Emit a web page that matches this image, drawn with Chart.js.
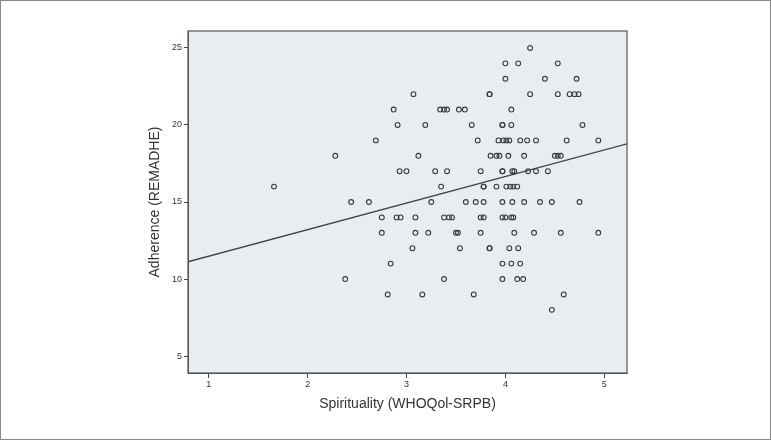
<!DOCTYPE html>
<html>
<head>
<meta charset="utf-8">
<script src="https://cdn.jsdelivr.net/npm/chart.js@4/dist/chart.umd.min.js"></script>
<style>
  html, body { margin: 0; padding: 0; background: #fff; }
  #wrap { width: 771px; height: 440px; position: relative; }
</style>
</head>
<body>
<div id="wrap"><canvas id="chart" width="771" height="440"></canvas></div>
<script>
// scatter: spirituality score (x) vs adherence score (y)
const adherence = [
  25,
  24, 24, 24,
  23, 23, 23,
  22, 22, 22, 22, 22, 22, 22, 22,
  21, 21, 21, 21, 21, 21, 21,
  20, 20, 20, 20, 20, 20, 20,
  19, 19, 19, 19, 19, 19, 19, 19, 19, 19, 19,
  18, 18, 18, 18, 18, 18, 18, 18, 18, 18,
  17, 17, 17, 17, 17, 17, 17, 17, 17, 17, 17, 17,
  16, 16, 16, 16, 16, 16, 16, 16, 16,
  15, 15, 15, 15, 15, 15, 15, 15, 15, 15, 15, 15,
  14, 14, 14, 14, 14, 14, 14, 14, 14, 14, 14, 14, 14,
  13, 13, 13, 13, 13, 13, 13, 13, 13, 13,
  12, 12, 12, 12, 12, 12,
  11, 11, 11, 11,
  10, 10, 10, 10, 10,
  9, 9, 9, 9,
  8, 8
];
const spirituality = [
  4.25,
  4.00, 4.13, 4.53,
  4.00, 4.40, 4.72,
  3.84, 3.84, 4.25, 4.53, 4.65, 4.70, 4.74,
  3.07, 3.34, 3.38, 3.41, 3.53, 3.59, 4.06,
  2.87, 3.19, 3.66, 3.97, 3.97, 4.06, 4.78,
  2.91, 3.72, 3.93, 3.98, 4.01, 4.04, 4.15, 4.22, 4.31, 4.62, 4.94,
  2.69, 3.12, 3.85, 3.91, 3.94, 4.03, 4.19, 4.50, 4.53, 4.56,
  2.28, 2.93, 3.29, 3.41, 3.75, 3.97, 3.97, 4.07, 4.09, 4.23, 4.31, 4.43,
  3.00, 3.35, 3.78, 3.78, 3.91, 4.01, 4.08, 4.12, 4.05,
  1.66, 2.62, 3.25, 3.60, 3.70, 3.78, 3.97, 4.07, 4.19, 4.35, 4.47, 4.75,
  2.44, 2.75, 2.90, 2.94, 3.38, 3.43, 3.46, 3.75, 3.78, 3.97, 4.00, 4.06, 4.08,
  3.09, 3.09, 3.22, 3.50, 3.52, 3.75, 4.09, 4.29, 4.56, 4.94,
  2.75, 3.06, 3.54, 3.84, 4.04, 4.13,
  3.84, 3.97, 4.06, 4.15,
  2.84, 3.38, 3.97, 4.12, 4.18,
  2.38, 3.16, 3.68, 4.59,
  2.81, 4.47
];

// fit line as drawn in the picture (value at the left and right plot edges)
const fitX = [0.79, 5.23];
const fitY = [11.12, 18.78];

const xTicks = [1, 2, 3, 4, 5];
const yTicks = [5, 10, 15, 20, 25];
const xRange = [0.79, 5.23];
const yRange = [3.9, 26.1];

const points = spirituality.map((x, i) => ({ x: x, y: adherence[i] }));
const fitLine = fitX.map((x, i) => ({ x: x, y: fitY[i] }));

const plotFrame = {
  id: 'plotFrame',
  beforeDraw(chart) {
    const { ctx, chartArea: a } = chart;
    ctx.save();
    ctx.fillStyle = '#ffffff';
    ctx.fillRect(0, 0, chart.width, chart.height);
    ctx.fillStyle = '#e9edf0';
    ctx.fillRect(a.left, a.top, a.right - a.left, a.bottom - a.top);
    ctx.restore();
  },
  afterDraw(chart) {
    const { ctx, chartArea: a } = chart;
    ctx.save();
    ctx.strokeStyle = '#555';
    ctx.lineWidth = 1.2;
    ctx.strokeRect(a.left, a.top, a.right - a.left, a.bottom - a.top);
    // outer frame of the figure
    ctx.strokeStyle = '#8a8a8a';
    ctx.lineWidth = 1;
    ctx.strokeRect(0.5, 0.5, chart.width - 1, chart.height - 1);
    ctx.restore();
  }
};

const tickFont = { family: 'Liberation Sans, Arial, sans-serif', size: 9 };
const titleFont = { family: 'Liberation Sans, Arial, sans-serif', size: 14 };

new Chart(document.getElementById('chart'), {
  type: 'scatter',
  data: {
    datasets: [
      {
        label: 'cases',
        data: points,
        pointRadius: 2.4,
        pointBorderWidth: 1.1,
        pointBorderColor: '#3a3a3a',
        pointBackgroundColor: 'rgba(0,0,0,0)'
      },
      {
        type: 'line',
        label: 'fit',
        data: fitLine,
        borderColor: '#444',
        borderWidth: 1.3,
        pointRadius: 0,
        fill: false
      }
    ]
  },
  plugins: [plotFrame],
  options: {
    responsive: false,
    animation: false,
    layout: { padding: { left: 147, right: 144, top: 31, bottom: 27 } },
    plugins: { legend: { display: false }, tooltip: { enabled: false } },
    scales: {
      x: {
        type: 'linear',
        min: xRange[0],
        max: xRange[1],
        afterBuildTicks: s => { s.ticks = xTicks.map(v => ({ value: v })); },
        afterFit: s => { s.height = 40; },
        grid: { drawOnChartArea: false, drawTicks: true, tickLength: 5, color: '#444' },
        border: { display: true, color: '#555' },
        ticks: { color: '#333', font: tickFont, padding: 1, maxRotation: 0 },
        title: { display: true, text: 'Spirituality (WHOQol-SRPB)', color: '#333', font: titleFont, padding: { top: 4, bottom: 0 } }
      },
      y: {
        type: 'linear',
        min: yRange[0],
        max: yRange[1],
        afterBuildTicks: s => { s.ticks = yTicks.map(v => ({ value: v })); },
        afterFit: s => { s.width = 41; },
        grid: { drawOnChartArea: false, drawTicks: true, tickLength: 4, color: '#444' },
        border: { display: true, color: '#555' },
        ticks: { color: '#333', font: tickFont, padding: 2 },
        title: { display: true, text: 'Adherence (REMADHE)', color: '#333', font: titleFont, padding: { top: 0, bottom: 4 } }
      }
    }
  }
});
</script>
</body>
</html>
